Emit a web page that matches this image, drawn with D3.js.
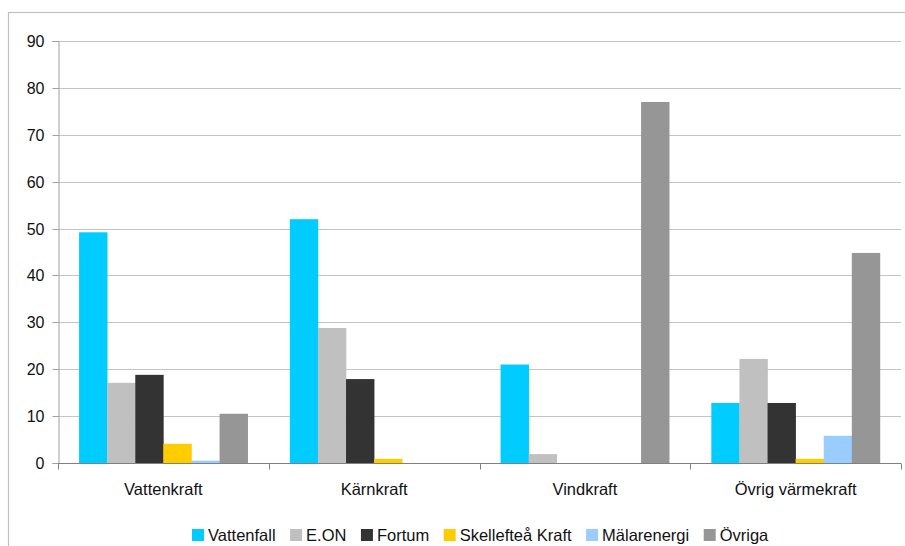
<!DOCTYPE html>
<html><head><meta charset="utf-8">
<script src="https://cdn.jsdelivr.net/npm/d3@7"></script>
<style>body{margin:0;background:#fff;}svg{display:block;font-family:"Liberation Sans",Arial,sans-serif;}</style>
</head><body>
<svg id="c" width="905" height="546"></svg>
<script>
const categories = ["Vattenkraft","Kärnkraft","Vindkraft","Övrig värmekraft"];
const seriesNames = ["Vattenfall","E.ON","Fortum","Skellefteå Kraft","Mälarenergi","Övriga"];
const seriesColors = ["#00CCFF","#C0C0C0","#333333","#FFCC00","#99CCFF","#969696"];
const vattenfall = [49.2, 52.0, 21.0, 12.8];
const eon = [17.1, 28.8, 1.9, 22.2];
const fortum = [18.8, 17.9, 0, 12.8];
const skelleftea = [4.1, 0.9, 0, 0.9];
const malarenergi = [0.5, 0, 0, 5.8];
const ovriga = [10.5, 0, 77.0, 44.8];
const yTicks = [0,10,20,30,40,50,60,70,80,90];

const series = [vattenfall, eon, fortum, skelleftea, malarenergi, ovriga];
const svg = d3.select("#c");
const L = 58, R = 901, T = 41, B = 463;

// outer border
svg.append("rect").attr("x",8.5).attr("y",12.5).attr("width",905).attr("height",545)
  .attr("fill","none").attr("stroke","#c0c0c0").attr("stroke-width",1.2);

const x0 = d3.scaleBand().domain(categories).range([L,R]).paddingInner(0).paddingOuter(0);
const x1 = d3.scaleBand().domain(seriesNames).range([0,x0.bandwidth()]).paddingInner(0).paddingOuter(0.75);
const y = d3.scaleLinear().domain([0,90]).range([B,T]);

// gridlines
svg.append("g").selectAll("line").data(yTicks.filter(d=>d>0)).join("line")
  .attr("x1",L).attr("x2",R).attr("y1",d=>Math.round(y(d))+0.5).attr("y2",d=>Math.round(y(d))+0.5)
  .attr("stroke","#c4c4c4").attr("stroke-width",1.2);

// bars
const g = svg.append("g");
categories.forEach((c,ci)=>{
  seriesNames.forEach((s,si)=>{
    const v = series[si][ci];
    if(v<=0) return;
    g.append("rect").attr("x",x0(c)+x1(s)).attr("width",x1.bandwidth()+0.3)
      .attr("y",y(v)).attr("height",B-y(v)).attr("fill",seriesColors[si]);
  });
});

// y axis
const ya = d3.axisLeft(y).tickValues(yTicks).tickSize(6).tickPadding(8);
const yg = svg.append("g").attr("transform",`translate(${L+0.5},0)`).call(ya);
yg.select(".domain").attr("stroke","#a0a0a0");
yg.selectAll(".tick line").attr("stroke","#a0a0a0");
yg.selectAll(".tick text").attr("font-size","16px").attr("fill","#111").attr("font-family","Liberation Sans, Arial, sans-serif");
yg.selectAll(".tick").attr("transform",d=>`translate(0,${Math.round(y(d))+0.5})`);

// x axis
const xa = d3.axisBottom(x0).tickSize(0).tickPadding(20);
const xg = svg.append("g").attr("transform",`translate(0,${B+0.5})`).call(xa);
xg.select(".domain").attr("stroke","#808080").attr("d",`M${L},0H${R}`);
xg.selectAll(".tick text").attr("font-size","16.5px").attr("fill","#111").attr("font-family","Liberation Sans, Arial, sans-serif");
const bounds = categories.map(c=>x0(c)).concat([R]);
xg.append("g").selectAll("line").data(bounds).join("line")
  .attr("x1",d=>Math.round(d)+0.5).attr("x2",d=>Math.round(d)+0.5).attr("y1",0).attr("y2",6)
  .attr("stroke","#808080");

// legend
const lg = svg.append("g").attr("transform","translate(192,529)");
let lx = 0;
seriesNames.forEach((s,i)=>{
  const it = lg.append("g").attr("transform",`translate(${lx},0)`);
  it.append("rect").attr("width",12).attr("height",12).attr("fill",seriesColors[i]);
  const t = it.append("text").attr("x",16).attr("y",11.5).attr("font-size","16.5px").attr("fill","#111").text(s);
  lx += 16 + t.node().getComputedTextLength() + 14.5;
});
</script>
</body></html>
